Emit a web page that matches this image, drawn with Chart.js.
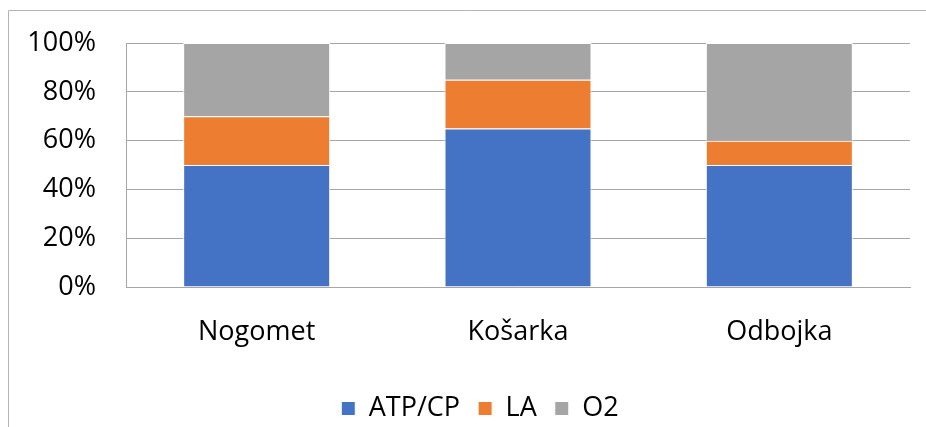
<!DOCTYPE html>
<html>
<head>
<meta charset="utf-8">
<script src="https://cdn.jsdelivr.net/npm/chart.js@4/dist/chart.umd.min.js"></script>
<style>
  html, body { margin: 0; padding: 0; background: #fff; }
  #wrap { width: 926px; height: 427px; }
</style>
</head>
<body>
<div id="wrap"><canvas id="energyChart" width="926" height="427"></canvas></div>
<script>
// chart data
const sports = ['Nogomet', 'Košarka', 'Odbojka'];
const atpCp = [50, 65, 50];
const la = [20, 20, 10];
const o2 = [30, 15, 40];

// frame lines of the original chart box (top and left only visible)
const framePlugin = {
    id: 'frame',
    beforeDraw(chart) {
        const ctx = chart.ctx;
        ctx.save();
        ctx.strokeStyle = '#b4b4b4';
        ctx.lineWidth = 1;
        ctx.beginPath();
        ctx.moveTo(8.5, 427);
        ctx.lineTo(8.5, 10.5);
        ctx.lineTo(926, 10.5);
        ctx.stroke();
        ctx.restore();
    },
    // original legend sits a bit right of the canvas centre
    afterLayout(chart) {
        chart.legend.left += 25;
        chart.legend.right += 25;
    }
};

const font = { family: "'Open Sans', 'Noto Sans', sans-serif", size: 27 };
// smaller line height on y ticks so the top label padding doesn't push the plot down
const yFont = { family: "'Open Sans', 'Noto Sans', sans-serif", size: 27, lineHeight: 0.97 };

new Chart(document.getElementById('energyChart').getContext('2d'), {
    type: 'bar',
    data: {
        labels: sports,
        datasets: [
            { label: 'ATP/CP', data: atpCp, backgroundColor: '#4472C4' },
            { label: 'LA', data: la, backgroundColor: '#ED7D31' },
            { label: 'O2', data: o2, backgroundColor: '#A5A5A5' },
        ],
    },
    options: {
        responsive: false,
        animation: false,
        layout: { padding: { top: 38, right: 16, bottom: -5, left: 0 } },
        datasets: {
            bar: {
                categoryPercentage: 1,
                barPercentage: 0.5625,
                borderColor: '#ffffff',
                borderWidth: 1,
                borderSkipped: 'start',
            },
        },
        scales: {
            x: {
                stacked: true,
                grid: { display: false },
                border: { display: true, color: '#a6a6a6', width: 1 },
                ticks: { color: '#000', font: font, padding: 21 },
                afterFit(scale) { scale.height = 90; },
            },
            y: {
                stacked: true,
                min: 0,
                max: 100,
                grid: { color: '#a6a6a6', drawTicks: false },
                border: { display: true, color: '#a6a6a6', width: 1 },
                ticks: {
                    stepSize: 20,
                    color: '#000',
                    font: yFont,
                    padding: 30,
                    callback: (v) => v + '%',
                },
                afterFit(scale) { scale.width = 126; },
            },
        },
        plugins: {
            legend: {
                position: 'bottom',
                labels: {
                    color: '#000',
                    font: font,
                    boxWidth: 14,
                    boxHeight: 14,
                    padding: 18,
                },
            },
            tooltip: { enabled: false },
        },
    },
    plugins: [framePlugin],
});
</script>
</body>
</html>
